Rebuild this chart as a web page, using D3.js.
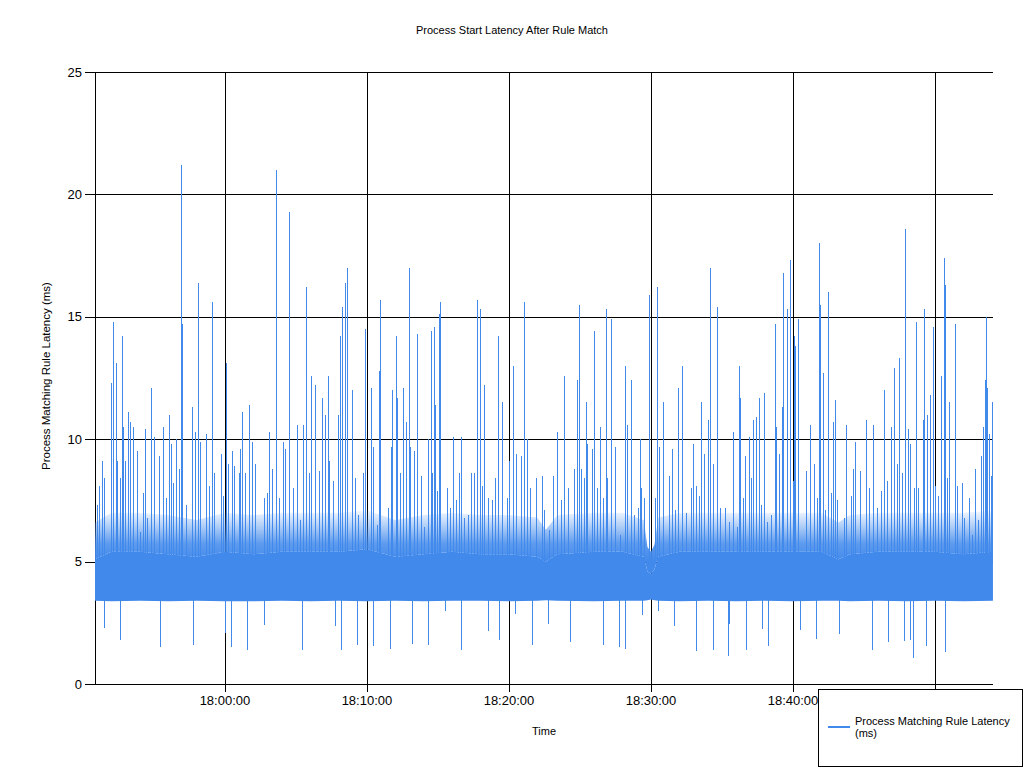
<!DOCTYPE html>
<html><head><meta charset="utf-8">
<script src="https://cdn.jsdelivr.net/npm/d3@7"></script>
<style>
body{margin:0;background:#fff}
svg{display:block}
text{font-family:"Liberation Sans",Arial,sans-serif;fill:#000}
</style>
</head><body>
<svg id="chart" width="1024" height="768"></svg>
<script>
// ---------------- data ----------------
const chartTitle = "Process Start Latency After Rule Match";
const seriesName = "Process Matching Rule Latency (ms)";
const startTime = "17:50:51";
const endTime = "18:54:05";
const baseTime = "17:50:00";           // minutes below are counted from this
const xTickLabels = ["18:00:00","18:10:00","18:20:00","18:30:00","18:40:00","18:50:00"];
const yTicks = [0,5,10,15,20,25];

// upward spikes: minutes after 17:50:00 and latency (ms)
const peakMinutes = [
 1.01,1.15,1.32,1.48,1.95,2.09,2.30,2.37,2.61,2.75,
 2.82,2.98,3.15,3.29,3.50,3.54,3.78,4.01,4.25,4.37,
 4.51,4.77,5.00,5.35,5.65,5.85,6.04,6.18,6.36,6.53,
 6.78,6.92,6.97,7.25,7.65,7.89,8.08,8.24,8.66,8.89,
 9.11,9.25,9.70,9.84,10.05,10.21,10.51,10.63,10.99,11.08,
 11.18,11.41,11.69,11.92,12.11,12.73,12.94,13.12,13.31,13.57,
 13.78,14.06,14.20,14.53,14.81,15.09,15.28,15.47,15.70,15.92,
 16.08,16.34,16.64,16.85,17.02,17.23,17.32,17.63,17.98,18.10,
 18.24,18.45,18.57,18.94,19.18,19.39,19.70,19.84,20.28,20.42,
 20.73,20.85,20.89,21.46,21.67,21.74,22.02,22.09,22.35,22.51,
 22.77,22.98,23.05,23.29,23.54,23.78,24.04,24.27,24.49,24.60,
 24.70,24.77,24.91,25.07,25.12,25.63,25.85,26.08,26.27,26.48,
 26.62,26.85,27.13,27.35,27.56,27.75,27.94,28.08,28.22,28.54,
 28.78,29.01,29.20,29.49,29.86,30.02,30.26,30.47,30.82,31.08,
 31.25,31.48,31.90,32.30,32.44,32.82,33.12,33.36,33.64,33.89,
 34.18,34.60,34.81,34.93,35.07,35.28,35.44,35.49,35.82,36.01,
 36.20,36.41,36.62,36.81,36.92,37.16,37.46,37.79,38.19,38.31,
 38.57,38.82,39.11,39.25,39.32,39.53,39.84,40.30,40.44,40.56,
 40.82,41.25,41.50,41.69,41.90,42.18,42.44,42.80,42.98,43.15,
 43.38,43.54,43.73,44.04,44.15,44.39,44.63,44.88,45.21,45.47,
 45.80,46.03,46.18,46.27,46.50,46.62,46.92,47.04,47.16,47.42,
 47.58,47.77,47.94,48.19,48.47,48.71,48.80,49.04,49.23,49.32,
 49.56,49.79,49.98,50.07,50.16,50.37,50.89,51.18,51.46,51.71,
 51.81,51.90,52.09,52.27,52.49,52.65,52.80,52.96,53.08,53.57,
 53.71,54.06,54.23,54.39,54.72,55.12,55.33,55.61,55.89,56.18,
 56.39,56.60,56.88,57.09,57.30,57.49,57.68,57.91,58.08,58.24,
 58.52,58.68,58.82,59.13,59.25,59.46,59.63,59.84,59.98,60.19,
 60.42,60.61,60.70,60.82,60.96,61.39,61.53,61.88,62.04,62.37,
 62.58,62.84,63.05,63.22,63.40,63.52,63.59,63.68,63.82,63.92,
 64.01];
const peakValues = [
 7.3,8.1,9.1,8.4,12.3,14.8,13.1,9.1,8.4,14.2,
 10.5,9.1,11.1,10.7,10.5,8.9,9.5,6.2,7.8,10.4,
 6.8,12.1,10.1,9.3,10.5,7.6,11.0,9.8,8.2,10.0,
 8.8,21.2,14.7,7.3,11.3,10.3,16.4,9.9,10.2,8.1,
 15.6,8.6,9.4,7.7,13.1,9.0,9.5,8.9,8.6,9.6,
 11.1,8.6,11.4,9.9,9.0,7.6,7.8,10.3,8.8,21.0,
 7.6,9.9,9.6,19.3,8.0,10.6,6.7,10.6,16.2,8.6,
 12.6,12.2,8.7,11.7,11.0,12.6,9.1,8.3,11.0,14.2,
 15.4,16.4,17.0,12.0,8.4,6.9,8.6,14.5,12.1,9.7,
 6.5,12.8,15.7,7.2,9.7,12.0,14.2,11.7,8.6,12.1,
 10.7,17.0,9.7,9.5,14.3,8.5,6.4,10.0,14.4,8.6,
 14.6,11.4,7.9,15.1,15.6,8.0,7.2,10.1,7.5,8.6,
 10.1,6.8,6.9,8.6,8.6,15.7,15.3,8.1,12.2,7.6,
 7.5,8.4,14.2,11.5,7.6,9.1,13.0,9.4,9.3,15.6,
 10.0,8.0,8.4,8.5,7.1,6.3,8.5,10.3,7.5,12.6,
 8.0,8.8,12.4,15.5,8.8,8.4,11.5,9.8,9.6,14.4,
 8.0,10.5,7.6,15.3,8.4,14.9,9.7,6.1,13.0,10.6,
 12.4,6.9,7.2,10.0,8.0,7.6,15.9,7.6,16.2,9.7,
 11.5,8.5,9.6,7.1,12.1,13.0,7.0,8.0,9.8,8.1,
 7.7,11.5,9.4,10.8,17.0,9.0,15.4,7.2,7.2,6.6,
 10.3,6.4,13.0,11.7,7.6,9.3,10.1,8.4,10.8,10.9,
 11.7,7.3,11.9,6.6,6.9,14.7,10.5,9.4,11.3,16.8,
 15.3,17.3,8.3,14.2,13.8,14.9,8.7,10.6,9.0,7.6,
 18.0,15.5,12.7,7.1,16.0,7.8,10.7,11.6,7.5,6.8,
 10.6,7.7,8.8,9.9,8.7,10.8,8.0,10.6,7.2,7.9,
 12.0,8.3,10.5,12.9,9.0,13.3,8.6,18.6,10.4,9.8,
 8.0,14.8,8.0,10.8,15.3,11.0,11.8,14.6,8.1,7.7,
 12.6,17.4,16.3,8.4,11.5,14.7,8.1,8.2,6.8,7.6,
 6.1,8.8,6.7,9.3,10.5,12.4,15.0,12.1,10.2,8.5,
 11.5];

// downward spikes
const dipMinutes = [
 1.46,2.61,5.40,7.73,10.02,10.42,11.57,12.73,15.44,17.75,
 18.15,19.27,20.42,21.60,23.15,24.27,25.47,26.64,28.52,29.30,
 30.42,31.62,32.75,34.32,36.62,37.75,38.17,39.35,40.51,41.62,
 43.19,44.35,45.42,45.51,46.67,47.84,48.22,50.51,51.64,53.24,
 55.54,56.67,57.82,58.22,58.43,59.37,60.70];
const dipValues = [
 2.3,1.8,1.5,1.6,2.1,1.5,1.4,2.4,1.4,2.35,
 1.4,1.6,1.55,1.45,1.65,1.6,3.0,1.4,2.15,1.8,
 2.85,1.6,2.45,1.7,1.6,1.5,1.45,2.8,3.0,2.35,
 1.35,1.4,1.15,2.45,1.4,2.25,1.55,2.2,1.85,2.05,
 1.4,1.7,1.75,1.8,1.05,1.55,1.3];

// dense band of ordinary samples: lower edge, solid upper edge, ragged upper edge
const bandMinutes = [0.85,2,4,6,8,10,12,14,16,18,20,22,24,26,28,30,32,32.6,33.4,36,38,39.5,39.75,40.0,40.25,40.5,42,44,46,48,50,52,53.2,54,56,58,60,62,64.08];
const bandLow  = [3.4,3.38,3.4,3.38,3.4,3.38,3.38,3.4,3.38,3.4,3.38,3.4,3.38,3.4,3.4,3.38,3.4,3.42,3.4,3.38,3.4,3.4,3.42,3.45,3.42,3.4,3.38,3.4,3.38,3.4,3.38,3.4,3.4,3.38,3.4,3.38,3.4,3.38,3.4];
const bandHigh = [5.1,5.4,5.4,5.3,5.2,5.4,5.3,5.4,5.4,5.4,5.5,5.2,5.3,5.4,5.3,5.3,5.2,5.0,5.3,5.4,5.4,5.2,4.6,4.5,4.7,5.2,5.4,5.4,5.4,5.4,5.4,5.4,5.1,5.3,5.4,5.4,5.4,5.3,5.4];
const hazeTop  = [6.6,7.0,7.0,6.9,6.7,7.0,6.9,7.0,7.0,7.0,7.1,6.7,6.9,7.0,6.9,6.9,6.8,6.3,6.9,7.0,7.0,6.7,5.6,5.4,5.7,6.8,7.0,7.0,7.0,7.0,7.0,7.0,6.6,6.9,7.0,7.0,7.0,7.0,7.1];

// ---------------- drawing ----------------
const W = 1024, H = 768;
const plotL = 95, plotR = 993, plotT = 72, plotB = 684;
const blue = "#4189eb";
const parse = d3.timeParse("%H:%M:%S");
const base = parse(baseTime);
const atMin = m => new Date(base.getTime() + m * 60000);

const x = d3.scaleTime().domain([parse(startTime), parse(endTime)]).range([plotL, plotR]);
const y = d3.scaleLinear().domain([0, 25]).range([plotB, plotT]);
const crisp = v => Math.round(v) + 0.5;

const svg = d3.select("#chart");
svg.append("rect").attr("width", W).attr("height", H).attr("fill", "#fff");
const defs = svg.append("defs");

// title
svg.append("text").attr("x", 512).attr("y", 34).attr("text-anchor", "middle")
  .style("font-size", "11px").text(chartTitle);

// gridlines + ticks
const grid = svg.append("g").attr("stroke", "#000").attr("stroke-width", 1).attr("shape-rendering", "crispEdges");
yTicks.forEach(t => {
  const py = crisp(y(t)) - 0.5;
  grid.append("line").attr("x1", plotL - 10).attr("x2", plotR).attr("y1", py).attr("y2", py);
});
xTickLabels.forEach(l => {
  const px = crisp(x(parse(l))) - 0.5;
  grid.append("line").attr("x1", px).attr("x2", px).attr("y1", plotT).attr("y2", plotB + 8);
});
grid.append("line").attr("x1", plotL).attr("x2", plotL).attr("y1", plotT).attr("y2", plotB);

// tick labels
svg.append("g").selectAll("text").data(yTicks).join("text")
  .attr("x", 82).attr("y", d => y(d) + 4.5).attr("text-anchor", "end")
  .style("font-size", "13px").text(d => d);
svg.append("g").selectAll("text").data(xTickLabels).join("text")
  .attr("x", d => x(parse(d))).attr("y", 705).attr("text-anchor", "middle")
  .style("font-size", "13px").text(d => d);

// axis titles
svg.append("text").attr("transform", "translate(50,376) rotate(-90)")
  .attr("text-anchor", "middle").style("font-size", "11.5px").text(seriesName);
svg.append("text").attr("x", 544).attr("y", 735).attr("text-anchor", "middle")
  .style("font-size", "11px").text("Time");

// data
defs.append("clipPath").attr("id", "plot")
  .append("rect").attr("x", plotL).attr("y", plotT).attr("width", plotR - plotL + 1).attr("height", plotB - plotT);
const grad = defs.append("linearGradient").attr("id", "haze")
  .attr("gradientUnits", "userSpaceOnUse").attr("x1", 0).attr("x2", 0)
  .attr("y1", y(5.0)).attr("y2", y(7.1));
grad.append("stop").attr("offset", 0).attr("stop-color", blue).attr("stop-opacity", 1);
grad.append("stop").attr("offset", 0.35).attr("stop-color", blue).attr("stop-opacity", 0.85);
grad.append("stop").attr("offset", 0.7).attr("stop-color", blue).attr("stop-opacity", 0.4);
grad.append("stop").attr("offset", 1).attr("stop-color", blue).attr("stop-opacity", 0.05);

const data = svg.append("g").attr("clip-path", "url(#plot)");

const band = bandMinutes.map((m, i) => ({t: atMin(m), lo: bandLow[i], hi: bandHigh[i], ht: hazeTop[i]}));
const area = (a, b) => d3.area().x(d => x(d.t)).y0(d => y(d[a])).y1(d => y(d[b]));
data.append("path").datum(band).attr("d", area("hi", "ht")).attr("fill", "url(#haze)");
data.append("path").datum(band).attr("d", area("lo", "hi")).attr("fill", blue);

const peaks = peakMinutes.map((m, i) => ({t: atMin(m), v: peakValues[i]}));
data.append("g").attr("stroke", blue).attr("stroke-width", 1).attr("shape-rendering", "crispEdges")
  .selectAll("line").data(peaks).join("line")
  .attr("x1", d => crisp(x(d.t))).attr("x2", d => crisp(x(d.t)))
  .attr("y1", y(5)).attr("y2", d => y(d.v));

const dips = dipMinutes.map((m, i) => ({t: atMin(m), v: dipValues[i]}));
data.append("g").attr("stroke", blue).attr("stroke-width", 1).attr("shape-rendering", "crispEdges")
  .selectAll("line").data(dips).join("line")
  .attr("x1", d => crisp(x(d.t))).attr("x2", d => crisp(x(d.t)))
  .attr("y1", y(4)).attr("y2", d => y(d.v));

// bottom axis line on top of everything
svg.append("line").attr("x1", plotL - 10).attr("x2", plotR).attr("y1", plotB).attr("y2", plotB)
  .attr("stroke", "#000").attr("shape-rendering", "crispEdges");

// legend
const lg = svg.append("g");
lg.append("rect").attr("x", 818.5).attr("y", 689.5).attr("width", 204).attr("height", 77)
  .attr("fill", "#fff").attr("stroke", "#000");
lg.append("line").attr("x1", 828).attr("x2", 850).attr("y1", 727).attr("y2", 727)
  .attr("stroke", blue).attr("stroke-width", 2);
lg.append("text").attr("x", 855).attr("y", 725).style("font-size", "11px").text("Process Matching Rule Latency");
lg.append("text").attr("x", 855).attr("y", 737).style("font-size", "11px").text("(ms)");
</script>
</body></html>
